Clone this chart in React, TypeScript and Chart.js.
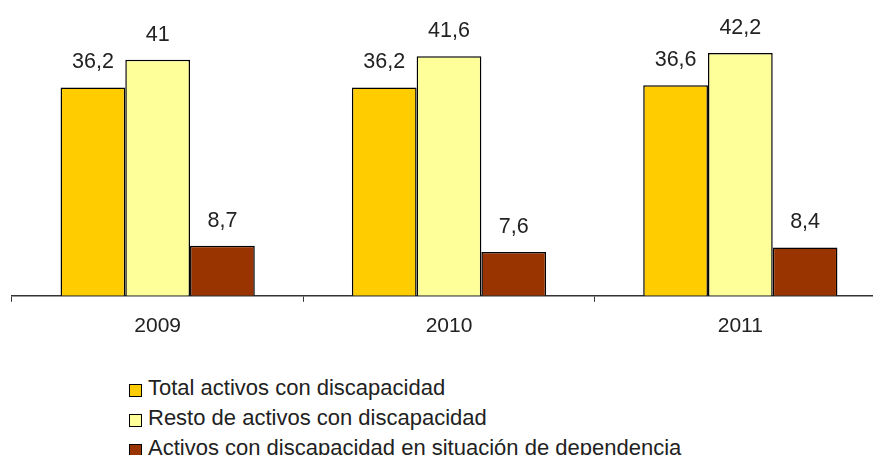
import React, { useEffect, useRef } from "react";
import { Chart, registerables } from "chart.js";

Chart.register(...registerables);

const categories = ["2009", "2010", "2011"];
const seriesNames = [
  "Total activos con discapacidad",
  "Resto de activos con discapacidad",
  "Activos con discapacidad en situación de dependencia",
];
const totalActivos = [36.2, 36.2, 36.6];
const restoActivos = [41, 41.6, 42.2];
const dependencia = [8.7, 7.6, 8.4];
const colors = ["#FFCC00", "#FFFF99", "#993300"];

const FONT = "'Liberation Sans', Arial, sans-serif";

const labelPlugin = {
  id: "valueLabels",
  afterDatasetsDraw(chart: any) {
    const ctx = chart.ctx;
    ctx.save();
    ctx.font = `21.5px ${FONT}`;
    ctx.fillStyle = "#222";
    ctx.textAlign = "center";
    ctx.textBaseline = "alphabetic";
    chart.data.datasets.forEach((ds: any, i: number) => {
      const meta = chart.getDatasetMeta(i);
      meta.data.forEach((bar: any, j: number) => {
        const v = ds.data[j];
        const txt = String(v).replace(".", ",");
        ctx.fillText(txt, bar.x, bar.y - 19);
      });
    });
    ctx.restore();
  },
};

export default function App() {
  const ref = useRef<HTMLCanvasElement>(null);
  useEffect(() => {
    if (!ref.current) return;
    const data = [totalActivos, restoActivos, dependencia];
    const chart = new Chart(ref.current, {
      type: "bar",
      data: {
        labels: categories,
        datasets: data.map((d, i) => ({
          label: seriesNames[i],
          data: d,
          backgroundColor: colors[i],
          borderColor: "#000",
          borderWidth: 1.5,
          categoryPercentage: 3 / 4.5,
          barPercentage: 1,
        })),
      },
      options: {
        animation: false,
        responsive: false,
        maintainAspectRatio: false,
        layout: { padding: { left: 12, right: 14, top: 8, bottom: 4 } },
        plugins: { legend: { display: false }, tooltip: { enabled: false } },
        scales: {
          y: { display: false, min: 0, max: 50 },
          x: {
            grid: {
              offset: true,
              drawOnChartArea: false,
              drawTicks: true,
              tickLength: 6,
              color: "#333",
            },
            border: { display: true, color: "#333", width: 1.5 },
            ticks: {
              color: "#222",
              font: { family: FONT, size: 21 },
              padding: 12,
            },
          },
        },
      },
      plugins: [labelPlugin],
    });
    return () => chart.destroy();
  }, []);

  return (
    <div
      style={{
        position: "fixed",
        left: 0,
        top: 0,
        width: 873,
        height: 455,
        overflow: "hidden",
        background: "#fff",
        fontFamily: FONT,
      }}
    >
      <canvas ref={ref} width={900} height={355} style={{ display: "block" }} />
      {seriesNames.map((n, i) => (
        <div
          key={n}
          style={{
            position: "absolute",
            left: 129,
            top: 371 + i * 30,
            height: 34,
            lineHeight: "34px",
            fontSize: 22,
            color: "#222",
            whiteSpace: "nowrap",
            display: "flex",
            alignItems: "center",
          }}
        >
          <span
            style={{
              display: "inline-block",
              width: 11,
              height: 11,
              background: colors[i],
              border: "1px solid #000",
              marginRight: 6,
              marginTop: 4,
            }}
          />
          <span>{n}</span>
        </div>
      ))}
    </div>
  );
}
